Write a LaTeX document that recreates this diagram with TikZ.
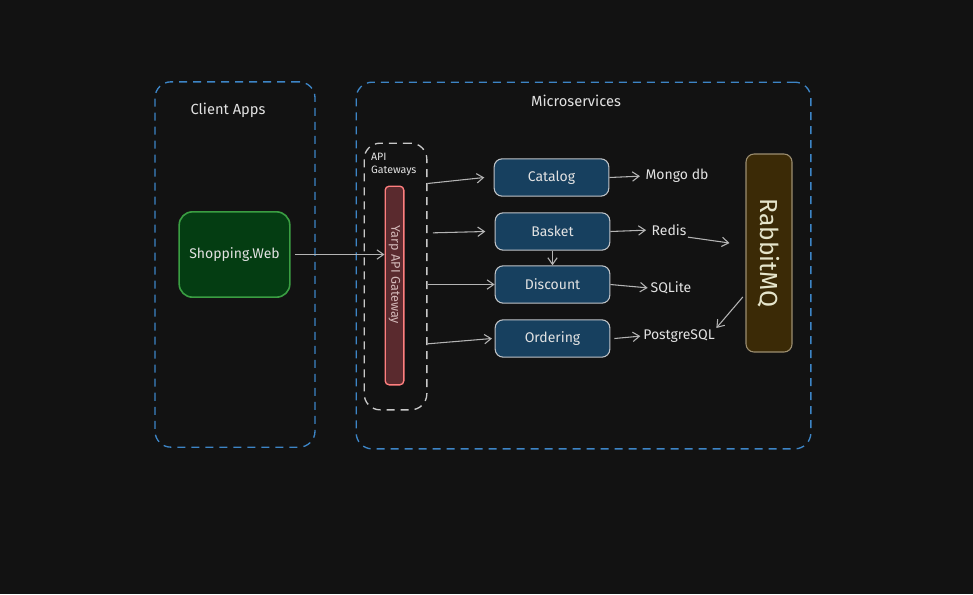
\documentclass[tikz,border=0pt]{standalone}
\usepackage{fontspec}
\setmainfont{Fira Sans}
\usetikzlibrary{positioning,arrows.meta}
\definecolor{bgdark}{HTML}{121212}
\definecolor{txtlight}{HTML}{E2E2E2}
\definecolor{grpblue}{HTML}{3D85C6}
\definecolor{gwgray}{HTML}{C8C8C8}
\definecolor{svcfill}{HTML}{17405F}
\definecolor{svcline}{HTML}{C0C4C8}
\definecolor{webfill}{HTML}{043D12}
\definecolor{webline}{HTML}{3A9E42}
\definecolor{yarpfill}{HTML}{5A2A2E}
\definecolor{yarpline}{HTML}{FF7F7F}
\definecolor{mqfill}{HTML}{3B2A06}
\definecolor{mqline}{HTML}{9C8E70}
\definecolor{arrgray}{HTML}{B4B4B4}

\begin{document}
\begin{tikzpicture}[x=0.75pt,y=-0.75pt,
	group/.style={draw=grpblue,dashed,dash pattern=on 6pt off 4.5pt,line width=1pt,rounded corners=12pt},
	gwbox/.style={draw=gwgray,dashed,dash pattern=on 6pt off 4.5pt,line width=1pt,rounded corners=12pt},
	svc/.style={draw=svcline,fill=svcfill,rounded corners=6pt,line width=0.8pt,minimum width=86pt,minimum height=28pt,text=txtlight,font=\fontsize{10.5}{12}\selectfont},
	store/.style={text=txtlight,inner sep=1pt,font=\fontsize{10.5}{12}\selectfont},
	link/.style={draw=arrgray,line width=0.8pt,-{Straight Barb[length=5pt,width=7pt]}},
	lbl/.style={text=txtlight,font=\fontsize{11}{13}\selectfont}]
	\fill[bgdark] (0,0) rectangle (973,594);
	\useasboundingbox (0,0) rectangle (973,594);
	% groups
	\node[group,minimum width=120pt,minimum height=274pt] (client) at (235,264.5) {};
	\node[lbl] (clienttitle) at (228,110) {Client Apps};
	\node[group,minimum width=341pt,minimum height=275pt] (micro) at (583.5,265.5) {};
	\node[lbl] (microtitle) at (576,101) {Microservices};
	\node[gwbox,minimum width=47pt,minimum height=200pt] (gw) at (395.5,276.5) {};
	\node[text=txtlight,align=left,anchor=north west,inner sep=0pt,font=\fontsize{8}{9.5}\selectfont] (gwtitle) at (gw.north west) [xshift=5.5pt,yshift=-8pt] {API\\Gateways};
	% nodes
	\node[draw=webline,fill=webfill,line width=1.2pt,rounded corners=10pt,minimum width=83pt,minimum height=64pt,text=txtlight,font=\fontsize{10.5}{12}\selectfont] (web) at (234.5,254.5) {Shopping.Web};
	\node[draw=yarpline,fill=yarpfill,line width=1pt,rounded corners=3pt,minimum width=14pt,minimum height=149pt] (yarp) at (394.5,285.5) {};
	\node[rotate=-90,text=gwgray!80!yarpline,font=\fontsize{9.5}{11}\selectfont] (yarptext) at (394.5,275) {Yarp API Gateway};
	\node[svc] (catalog) at (551.5,177.5) {Catalog};
	\node[svc] (basket) at (552.5,231.5) {Basket};
	\node[svc] (discount) at (552.5,284.5) {Discount};
	\node[svc] (ordering) at (552.5,338.5) {Ordering};
	\node[store] (mongo) at (677,176) {Mongo db};
	\node[store] (redis) at (669,230) {Redis};
	\node[store] (sqlite) at (671,288) {SQLite};
	\node[store] (postgres) at (679,336) {PostgreSQL};
	\node[draw=mqline,fill=mqfill,line width=0.8pt,rounded corners=6pt,minimum width=34.5pt,minimum height=148.5pt] (rabbit) at (769,253) {};
	\node[rotate=-90,text=txtlight!90!yellow,font=\fontsize{18.5}{22}\selectfont] (rabbittext) at (rabbit.center) {RabbitMQ};
	% links
	\draw[link,shorten <=3pt] (web.east) -- (web.east -| yarp.west);
	\draw[link] ([yshift=-4.5pt]gw.east |- catalog.west) -- ([xshift=-7pt]catalog.west);
	\draw[link] ([xshift=4pt,yshift=-1pt]gw.east |- basket.west) -- ([xshift=-7pt]basket.west);
	\draw[link] (gw.east |- discount.west) -- (discount.west);
	\draw[link] ([yshift=-4pt]gw.east |- ordering.west) -- ([xshift=-2pt]ordering.west);
	\draw[link,shorten >=3pt] (catalog.east) -- (mongo.west);
	\draw[link,shorten >=3pt] (basket.east) -- (redis.west);
	\draw[link,shorten >=1pt] (discount.east) -- (sqlite.west);
	\draw[link,shorten >=1pt] ([xshift=3pt]ordering.east) -- (postgres.west);
	\draw[link] (basket.south) -- (discount.north);
	\draw[link] (redis.south east) -- ([xshift=-12pt,yshift=7.5pt]rabbit.west);
	\draw[link] ([xshift=-2pt,yshift=-33pt]rabbit.west) -- (postgres.north east);
\end{tikzpicture}
\end{document}
